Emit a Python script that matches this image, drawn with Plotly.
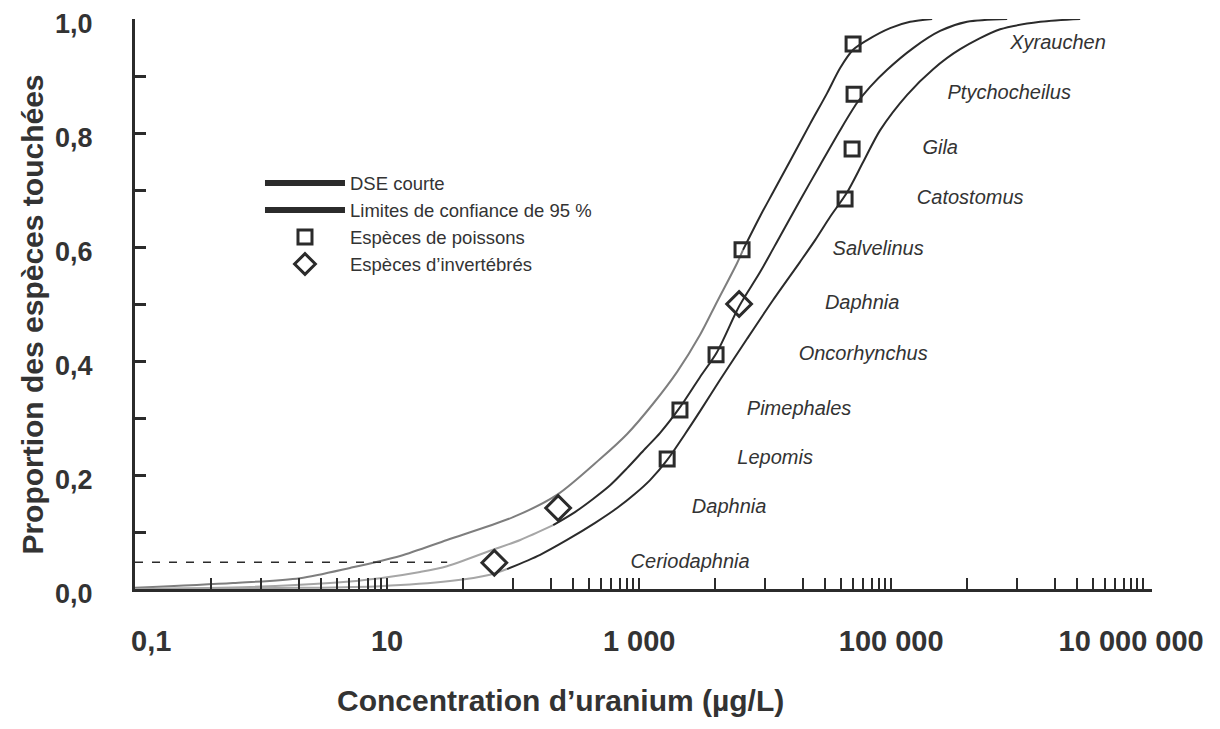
import plotly.graph_objects as go

# ---- data ----
species = ["Ceriodaphnia", "Daphnia", "Lepomis", "Pimephales", "Oncorhynchus",
           "Daphnia", "Salvelinus", "Catostomus", "Gila", "Ptychocheilus", "Xyrauchen"]
group = ["inv", "inv", "fish", "fish", "fish", "inv", "fish", "fish", "fish", "fish", "fish"]
conc = [71, 228, 1670, 2110, 4080, 6220, 6560, 43100, 49000, 50800, 49900]
prop = [0.046, 0.142, 0.228, 0.314, 0.411, 0.500, 0.595, 0.684, 0.772, 0.868, 0.956]
label_x = [2540, 5180, 12000, 18600, 60000, 58900, 78900, 424000, 245000, 865000, 2110000]

# upper 95 % confidence limit (left curve): light lower part, dark upper part
upper_lo_x = [0.1, 0.60, 2.04, 5.08, 12.7, 29.9, 100, 223, 490, 804, 1291, 2003, 3048, 4158, 6000, 6680]
upper_lo_y = [0.002, 0.0105, 0.019, 0.037, 0.058, 0.086, 0.126, 0.165, 0.228, 0.272, 0.325,
              0.381, 0.446, 0.504, 0.572, 0.595]
upper_hi_x = [6680, 9125, 11570, 15780, 22750, 31050, 39390, 49900, 64560, 98200, 141600, 211500]
upper_hi_y = [0.595, 0.654, 0.696, 0.751, 0.816, 0.870, 0.914, 0.946, 0.963, 0.984, 0.995, 1.0]

# fitted SSD (middle curve)
dse_lo_x = [0.1, 0.818, 3.53, 8.79, 18.3, 29.9, 65.6, 114, 208]
dse_lo_y = [0.0, 0.0035, 0.0105, 0.019, 0.030, 0.040, 0.067, 0.086, 0.112]
dse_hi_x = [208, 310, 431, 589, 804, 1117, 1469, 2115, 3048, 4158, 6223, 9125, 13150, 18950,
            27330, 39390, 53700, 68100, 92900, 149500, 244700, 400600, 833000]
dse_hi_y = [0.112, 0.135, 0.158, 0.182, 0.212, 0.246, 0.274, 0.319, 0.372, 0.416, 0.496, 0.556,
            0.619, 0.682, 0.744, 0.805, 0.853, 0.881, 0.911, 0.949, 0.979, 0.995, 1.0]

# lower 95 % confidence limit (right curve)
lower_lo_x = [0.1, 2.04, 8.79, 31.6, 65.6, 89.6]
lower_lo_y = [0.0, 0.002, 0.005, 0.014, 0.025, 0.035]
lower_hi_x = [89.6, 164, 268, 448, 669, 929, 1222, 1667, 2317, 3048, 4393, 7194, 11570, 18950,
              24950, 32830, 44770, 59980, 81850, 134000, 215400, 353000, 733000, 1524000, 3162000]
lower_hi_y = [0.035, 0.060, 0.086, 0.116, 0.142, 0.167, 0.191, 0.226, 0.272, 0.312, 0.367,
              0.439, 0.507, 0.574, 0.612, 0.653, 0.696, 0.749, 0.805, 0.867, 0.912, 0.947,
              0.982, 0.995, 1.0]

hc5_x = [0.1, 30]
hc5_y = [0.047, 0.047]

NB = "\u00a0"
x_tickvals = [0.1, 10, 1000, 100000, 10000000]
x_ticktext = [NB * 7 + "0,1", NB * 3 + "10", NB * 3 + "1 000", NB * 3 + "100 000", "10 000 000"]
x_minor = [0.4, 1, 2, 3, 4, 5, 6, 7, 8, 9,
           40, 100, 200, 300, 400, 500, 600, 700, 800, 900,
           4000, 10000, 20000, 30000, 40000, 50000, 60000, 70000, 80000, 90000,
           400000, 1000000, 2000000, 3000000, 4000000, 5000000, 6000000, 7000000, 8000000, 9000000]
y_tickvals = [0, 0.2, 0.4, 0.6, 0.8, 1.0]
y_ticktext = ["0,0", "0,2", "0,4", "0,6", "0,8", "1,0"]
y_minor = [0.1, 0.3, 0.5, 0.7, 0.9]

x_title = "Concentration d’uranium (µg/L)"
y_title = "Proportion des espèces touchées"
legend_names = ["DSE courte", "Limites de confiance de 95 %", "Espèces de poissons", "Espèces d’invertébrés"]

DARK = "#2b2b2b"
MID = "#7e7e7e"
LIGHT = "#a6a6a6"
TXT = "#333333"
FONT = "Liberation Sans, Arial, sans-serif"

fig = go.Figure()

def curve(x, y, color):
    fig.add_trace(go.Scatter(x=x, y=y, mode="lines", showlegend=False, hoverinfo="skip",
                             line=dict(color=color, width=2, shape="spline", smoothing=0.8)))

curve(upper_lo_x, upper_lo_y, MID)
curve(upper_hi_x, upper_hi_y, DARK)
curve(dse_lo_x, dse_lo_y, LIGHT)
curve(dse_hi_x, dse_hi_y, DARK)
curve(lower_lo_x, lower_lo_y, LIGHT)
curve(lower_hi_x, lower_hi_y, DARK)

fig.add_trace(go.Scatter(x=hc5_x, y=hc5_y, mode="lines", showlegend=False, hoverinfo="skip",
                         line=dict(color=DARK, width=1.5, dash="8px,9px")))

fish_x = [c for c, g in zip(conc, group) if g == "fish"]
fish_y = [p for p, g in zip(prop, group) if g == "fish"]
inv_x = [c for c, g in zip(conc, group) if g == "inv"]
inv_y = [p for p, g in zip(prop, group) if g == "inv"]

# legend entries
fig.add_trace(go.Scatter(x=[None], y=[None], mode="lines", name=legend_names[0],
                         line=dict(color=DARK, width=6)))
fig.add_trace(go.Scatter(x=[None], y=[None], mode="lines", name=legend_names[1],
                         line=dict(color=DARK, width=6)))
fig.add_trace(go.Scatter(x=fish_x, y=fish_y, mode="markers", name=legend_names[2],
                         cliponaxis=False,
                         marker=dict(symbol="square-open", size=14, color=DARK,
                                     line=dict(width=3, color=DARK))))
fig.add_trace(go.Scatter(x=inv_x, y=inv_y, mode="markers", name=legend_names[3],
                         cliponaxis=False,
                         marker=dict(symbol="diamond-open", size=19, color=DARK,
                                     line=dict(width=3, color=DARK))))

fig.add_trace(go.Scatter(x=label_x, y=prop, mode="text", text=species, showlegend=False,
                         hoverinfo="skip", cliponaxis=False,
                         textfont=dict(family=FONT, size=20, color=TXT, style="italic")))

# page body has an 8 px margin, so the figure is sized to fit inside the window
fig.update_layout(
    width=1204, height=713,
    margin=dict(l=127, r=60, t=11, b=132, autoexpand=False),
    paper_bgcolor="white", plot_bgcolor="white",
    font=dict(family=FONT, color=TXT),
    showlegend=True,
    legend=dict(x=0.1229, y=0.745, xanchor="left", yanchor="top", itemwidth=80,
                bgcolor="rgba(0,0,0,0)", borderwidth=0,
                font=dict(size=18.5, color=TXT), tracegroupgap=0),
    annotations=[
        dict(text="<b>" + x_title + "</b>", xref="paper", yref="paper", x=0.418, y=-0.195,
             xanchor="center", yanchor="middle", showarrow=False,
             font=dict(size=30, color=TXT, family=FONT)),
        dict(text="<b>" + y_title + "</b>", xref="paper", yref="paper", x=-0.1005, y=0.481,
             xanchor="center", yanchor="middle", showarrow=False, textangle=-90,
             font=dict(size=30, color=TXT, family=FONT)),
    ],
)

fig.update_xaxes(
    type="log", range=[-1, 7.07], automargin=False, ticklabeloverflow="allow",
    tickmode="array", tickvals=x_tickvals, ticktext=x_ticktext,
    ticks="inside", ticklen=11, tickwidth=2, tickcolor=DARK,
    minor=dict(tickmode="array", tickvals=x_minor, ticks="inside", ticklen=11,
               tickwidth=2, tickcolor=DARK, showgrid=False),
    tickfont=dict(size=29, color=TXT, family=FONT, weight="bold"),
    ticklabelstandoff=24, ticklabelshift=-12,
    showline=True, linecolor=DARK, linewidth=2.5,
    showgrid=False, zeroline=False,
)
fig.update_yaxes(
    range=[0, 1.0], automargin=False, ticklabeloverflow="allow",
    tickmode="array", tickvals=y_tickvals, ticktext=y_ticktext,
    ticks="inside", ticklen=11, tickwidth=2.5, tickcolor=DARK,
    minor=dict(tickmode="array", tickvals=y_minor, ticks="inside", ticklen=11,
               tickwidth=2.5, tickcolor=DARK, showgrid=False),
    tickfont=dict(size=27, color=TXT, family=FONT, weight="bold"),
    ticklabelstandoff=34, ticklabelshift=5,
    showline=True, linecolor=DARK, linewidth=3,
    showgrid=False, zeroline=False,
)

fig.write_html("out.html")
